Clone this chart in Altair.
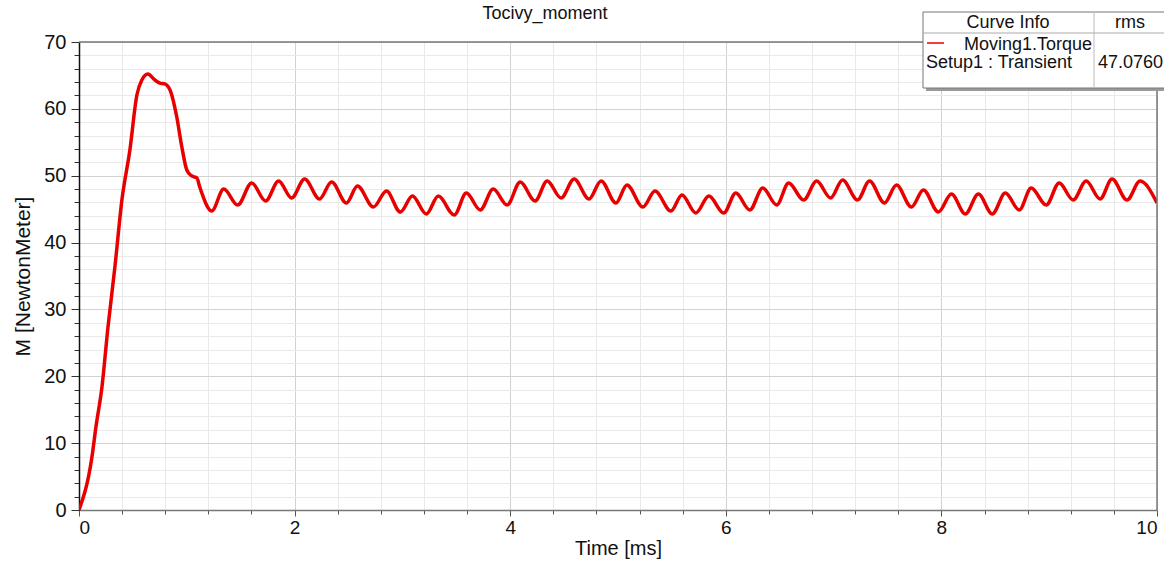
import altair as alt
import pandas as pd

# Data (time in ms, torque in N·m)
time_ms = [0.0, 0.120, 0.157, 0.213, 0.269, 0.333, 0.398, 0.472, 0.537, 0.583, 0.639,
           0.704, 0.750, 0.796, 0.852, 0.907, 0.954, 1.000, 1.046, 1.093, 1.120, 1.231,
           1.343, 1.472, 1.602, 1.731, 1.852, 1.972, 2.093, 2.231, 2.343, 2.481, 2.583,
           2.731, 2.852, 2.981, 3.093, 3.222, 3.333, 3.481, 3.593, 3.722, 3.843, 3.972,
           4.093, 4.231, 4.343, 4.472, 4.593, 4.731, 4.843, 4.981, 5.083, 5.231, 5.343,
           5.491, 5.593, 5.722, 5.843, 5.981, 6.093, 6.222, 6.343, 6.472, 6.583, 6.722,
           6.843, 6.972, 7.083, 7.222, 7.333, 7.472, 7.583, 7.722, 7.833, 7.972, 8.093,
           8.222, 8.343, 8.472, 8.593, 8.722, 8.833, 8.972, 9.093, 9.222, 9.343, 9.472,
           9.583, 9.722, 9.843, 10.0]
torque = [0.0, 7.93, 12.41, 18.40, 27.37, 36.34, 46.37, 53.84, 62.07, 64.31, 65.21,
          64.31, 63.86, 63.72, 62.52, 58.78, 54.29, 50.85, 49.96, 49.66, 48.31, 44.72,
          48.01, 45.62, 48.91, 46.22, 49.21, 46.66, 49.51, 46.52, 49.06, 45.92, 48.46,
          45.32, 47.71, 44.57, 46.96, 44.27, 46.96, 44.12, 47.41, 44.87, 48.01, 45.62,
          49.06, 46.22, 49.21, 46.66, 49.51, 46.52, 49.21, 45.92, 48.61, 45.32, 47.71,
          44.72, 47.11, 44.42, 46.96, 44.42, 47.41, 44.87, 48.16, 45.62, 48.91, 46.37,
          49.21, 46.66, 49.36, 46.37, 49.21, 45.92, 48.61, 45.32, 47.86, 44.57, 47.26,
          44.27, 47.26, 44.27, 47.41, 44.87, 48.16, 45.62, 48.91, 46.37, 49.21, 46.52,
          49.51, 46.37, 49.21, 45.92]

x_ticks = [round(i * 0.4, 1) for i in range(26)]
y_ticks = list(range(0, 72, 2))

chart_title = "Tocivy_moment"
x_title = "Time [ms]"
y_title = "M [NewtonMeter]"
legend_header = ["Curve Info", "rms"]
legend_name = "Moving1.Torque"
legend_setup = "Setup1 : Transient"
legend_rms = "47.0760"

FONT = "Liberation Sans"
RED = "#e80000"

df = pd.DataFrame({"t": time_ms, "m": torque})
one = pd.DataFrame({"d": [0]})

x_scale = alt.Scale(domain=[0, 10], nice=False, zero=False)
y_scale = alt.Scale(domain=[0, 70], nice=False)

x_axis = alt.Axis(
    values=x_ticks,
    labelExpr="datum.value % 2 === 0 ? format(datum.value, 'd') : ''",
    labelOverlap=False,
    labelFontSize=19, labelFont=FONT, labelColor="#111",
    labelPadding=2,
    tickSize={"condition": {"test": "datum.value % 2 === 0", "value": 6}, "value": 4},
    tickColor="#555",
    domainColor="#777", domainWidth=1.5,
    gridColor={"condition": {"test": "datum.value % 2 === 0", "value": "#d2d2d2"}, "value": "#e9e9e9"},
    title=x_title, titleFontSize=20, titleFont=FONT, titleFontWeight="normal",
    titleColor="#111", titlePadding=1,
)
y_axis = alt.Axis(
    values=y_ticks,
    labelExpr="datum.value % 10 === 0 ? format(datum.value, 'd') : ''",
    labelOverlap=False,
    labelFontSize=20, labelFont=FONT, labelColor="#111",
    labelPadding=5,
    tickSize={"condition": {"test": "datum.value % 10 === 0", "value": 8}, "value": 5},
    tickColor="#333",
    domainColor="#111", domainWidth=1.5,
    gridColor={"condition": {"test": "datum.value % 10 === 0", "value": "#d2d2d2"}, "value": "#e9e9e9"},
    title=y_title, titleFontSize=21, titleFont=FONT, titleFontWeight="normal",
    titleColor="#111", titlePadding=10,
)

line = alt.Chart(df).mark_line(color=RED, strokeWidth=3.5, clip=True, interpolate="monotone").encode(
    x=alt.X("t:Q", scale=x_scale, axis=x_axis),
    y=alt.Y("m:Q", scale=y_scale, axis=y_axis),
)

# frame (top and right edges of the plot area)
top_rule = alt.Chart(one).mark_rule(color="#777", strokeWidth=1.5).encode(
    x=alt.value(0), x2=alt.value(1078), y=alt.value(0))
right_rule = alt.Chart(one).mark_rule(color="#777", strokeWidth=1.5).encode(
    x=alt.value(1078), y=alt.value(0), y2=alt.value(468))

title_text = alt.Chart(one).mark_text(text=chart_title, font=FONT, fontSize=18, color="#111",
                                      align="center", baseline="alphabetic").encode(
    x=alt.value(466), y=alt.value(-23))

# legend table (top right)
shadow = alt.Chart(one).mark_rect(color="#9a9a9a").encode(
    x=alt.value(847), x2=alt.value(1100), y=alt.value(-27), y2=alt.value(49))
box = alt.Chart(one).mark_rect(fill="white", stroke="#777", strokeWidth=1).encode(
    x=alt.value(844), x2=alt.value(1095), y=alt.value(-30), y2=alt.value(46))
hsep = alt.Chart(one).mark_rule(color="#aaa").encode(
    x=alt.value(844), x2=alt.value(1095), y=alt.value(-9))
vsep = alt.Chart(one).mark_rule(color="#bbb").encode(
    x=alt.value(1015), y=alt.value(-30), y2=alt.value(46))
swatch = alt.Chart(one).mark_rule(color=RED, strokeWidth=1.5).encode(
    x=alt.value(848), x2=alt.value(865), y=alt.value(1))

def txt(s, x, y, align="left"):
    return alt.Chart(one).mark_text(text=s, font=FONT, fontSize=18, color="#111",
                                    align=align, baseline="alphabetic").encode(
        x=alt.value(x), y=alt.value(y))

texts = [
    txt(legend_header[0], 929, -14, "center"),
    txt(legend_header[1], 1051, -14, "center"),
    txt(legend_name, 1013, 8, "right"),
    txt(legend_setup, 847, 26),
    txt(legend_rms, 1019, 26),
]

chart = alt.layer(line, top_rule, right_rule, title_text, shadow, box, hsep, vsep, swatch,
                  *texts).properties(
    width=1078, height=468,
    autosize=alt.AutoSizeParams(type="none"),
    padding={"left": 79, "top": 42, "right": 7, "bottom": 51},
).configure_view(stroke=None).configure(background="white")

chart.save("out.html", embed_options={"renderer": "svg", "actions": False})
